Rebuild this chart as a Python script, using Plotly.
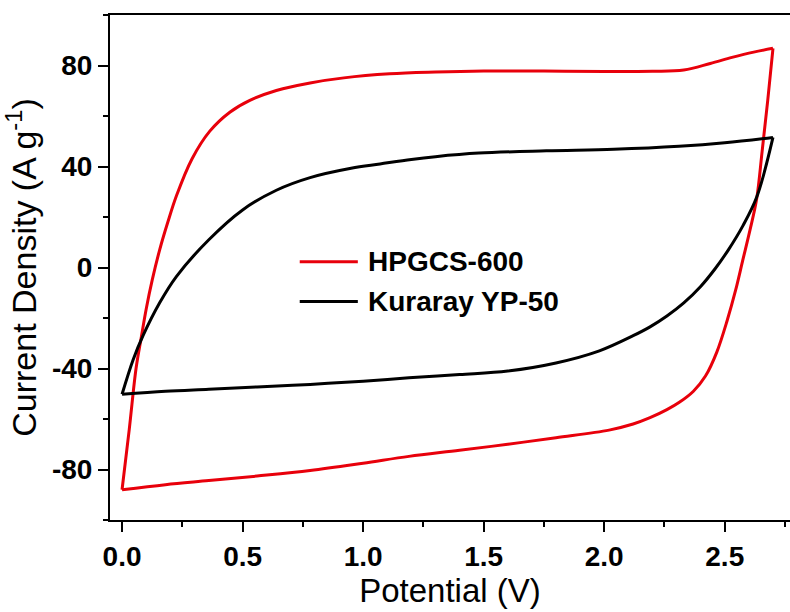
import plotly.graph_objects as go

# Cyclic voltammograms, split into the anodic (0 -> 2.7 V) and cathodic (2.7 -> 0 V) sweeps
hpgcs_fwd_v = [0.0, 0.03, 0.058, 0.08, 0.10, 0.125, 0.156, 0.19, 0.226, 0.29, 0.364, 0.447,
               0.53, 0.64, 0.78, 0.92, 1.11, 1.30, 1.50, 1.75, 2.00, 2.20, 2.33, 2.44, 2.53,
               2.62, 2.70]
hpgcs_fwd_j = [-88.0, -64.0, -40.0, -27.5, -16.5, -5.0, 7.0, 18.0, 28.5, 43.0, 54.0, 61.5,
               66.2, 70.1, 73.1, 75.1, 76.7, 77.4, 77.8, 77.8, 77.6, 77.7, 78.2, 80.8, 83.2,
               85.3, 86.8]
hpgcs_rev_v = [2.70, 2.678, 2.655, 2.632, 2.605, 2.575, 2.545, 2.51, 2.467, 2.42, 2.37, 2.31,
               2.26, 2.19, 2.12, 2.02, 1.80, 1.60, 1.40, 1.19, 1.00, 0.78, 0.56, 0.36, 0.18,
               0.0]
hpgcs_rev_j = [86.8, 66.0, 46.0, 27.0, 15.0, 3.0, -9.0, -21.0, -33.5, -43.0, -49.0, -53.5,
               -56.3, -59.5, -62.0, -64.4, -67.4, -70.0, -72.4, -74.8, -77.5, -80.4, -82.6,
               -84.4, -86.0, -88.0]

yp50_fwd_v = [0.0, 0.046, 0.087, 0.156, 0.226, 0.36, 0.50, 0.64, 0.78, 0.95, 1.07, 1.20,
              1.30, 1.48, 1.76, 2.04, 2.31, 2.50, 2.70]
yp50_fwd_j = [-50.2, -36.5, -27.0, -14.0, -3.5, 11.0, 22.8, 30.6, 35.6, 39.3, 41.0, 42.8,
              43.9, 45.3, 46.2, 46.8, 48.0, 49.4, 51.5]
yp50_rev_v = [2.70, 2.633, 2.575, 2.515, 2.46, 2.40, 2.33, 2.26, 2.19, 2.12, 1.98, 1.80,
              1.60, 1.40, 1.19, 1.00, 0.78, 0.56, 0.36, 0.18, 0.0]
yp50_rev_j = [51.5, 28.0, 16.5, 7.0, -0.5, -7.5, -14.0, -19.2, -23.5, -27.0, -33.0, -37.8,
              -41.0, -42.4, -43.7, -45.0, -46.3, -47.3, -48.2, -49.0, -50.2]

series_names = ["HPGCS-600", "Kuraray YP-50"]
series_colors = ["#e8000b", "#000000"]

x_ticks = [0.0, 0.5, 1.0, 1.5, 2.0, 2.5]
x_ticktext = ["0.0", "0.5", "1.0", "1.5", "2.0", "2.5"]
y_ticks = [-80, -40, 0, 40, 80]
y_ticktext = ["-80", "-40", "0", "40", "80"]

FONT = "Arial, Liberation Sans, sans-serif"

fig = go.Figure()
sweeps = [
    [(hpgcs_fwd_v, hpgcs_fwd_j), (hpgcs_rev_v, hpgcs_rev_j)],
    [(yp50_fwd_v, yp50_fwd_j), (yp50_rev_v, yp50_rev_j)],
]
for branches, name, col in zip(sweeps, series_names, series_colors):
    for v, j in branches:
        fig.add_trace(go.Scatter(x=v, y=j, mode="lines", name=name,
                                 line=dict(color=col, width=3, shape="spline", smoothing=1.0),
                                 showlegend=False))

# legend drawn as line samples with bold labels
leg_x0, leg_x1, leg_tx = 0.737, 0.978, 1.012
leg_y = [2.3, -13.5]
for name, col, ly in zip(series_names, series_colors, leg_y):
    fig.add_shape(type="line", xref="x", yref="y", x0=leg_x0, x1=leg_x1, y0=ly, y1=ly,
                  line=dict(color=col, width=3))
    fig.add_annotation(x=leg_tx, y=ly, xref="x", yref="y", text=name, showarrow=False,
                       xanchor="left", yanchor="middle",
                       font=dict(family=FONT, size=28, color="black", weight="bold"))

axis_common = dict(showline=True, linecolor="black", linewidth=2, ticks="outside",
                   ticklen=10, tickwidth=2, tickcolor="black", showgrid=False,
                   zeroline=False,
                   tickfont=dict(family=FONT, size=28, color="black", weight="bold"))

fig.update_xaxes(range=[-0.05, 2.7706], tickmode="array", tickvals=x_ticks,
                 ticktext=x_ticktext, mirror=True,
                 minor=dict(tickmode="linear", tick0=0, dtick=0.25, ticklen=5,
                            tickwidth=2, tickcolor="black", ticks="outside"),
                 title=dict(text="Potential (V)", font=dict(family=FONT, size=33, color="black"),
                            standoff=6),
                 **axis_common)
fig.update_yaxes(range=[-100, 100], tickmode="array", tickvals=y_ticks,
                 ticktext=y_ticktext,
                 minor=dict(tickmode="linear", tick0=0, dtick=20, ticklen=5,
                            tickwidth=2, tickcolor="black", ticks="outside"),
                 title=dict(text="Current Density (A g<sup>-1</sup>)",
                            font=dict(family=FONT, size=34, color="black"), standoff=6),
                 **axis_common)

fig.update_layout(width=790, height=612, margin=dict(l=110, r=0, t=15, b=92),
                  plot_bgcolor="white", paper_bgcolor="white")

fig.write_html("out.html")
